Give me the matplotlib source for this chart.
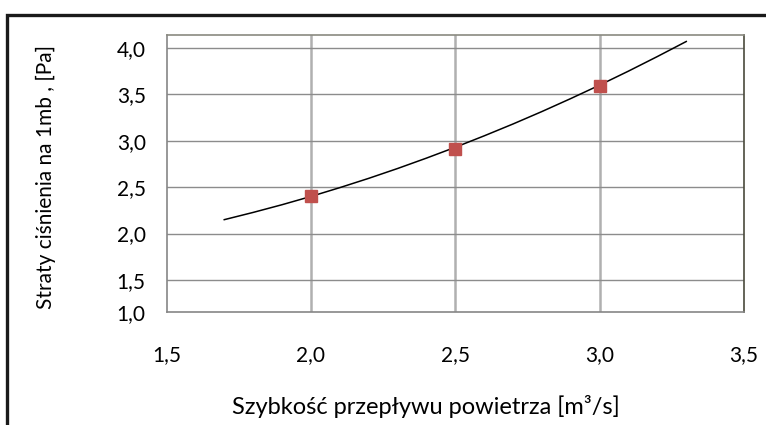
import matplotlib
matplotlib.use("Agg")
import matplotlib.pyplot as plt
from matplotlib.patches import Rectangle

plt.rcParams['font.family'] = ['Lato', 'DejaVu Sans']

# measured points
flow = [2.0, 2.5, 3.0]
loss = [2.41, 2.91, 3.59]

# trendline (forecast 1.7 .. 3.3)
trend_x = [1.7, 1.8, 1.9, 2.0, 2.1, 2.2, 2.3, 2.4, 2.5, 2.6, 2.7, 2.8, 2.9, 3.0, 3.1, 3.2, 3.3]
trend_y = [2.15, 2.228, 2.311, 2.40, 2.495, 2.595, 2.701, 2.813, 2.93, 3.053, 3.181,
           3.315, 3.455, 3.60, 3.751, 3.908, 4.07]

x_ticks = [1.5, 2.0, 2.5, 3.0, 3.5]
x_labels = ['1,5', '2,0', '2,5', '3,0', '3,5']
y_ticks = [1.5, 2.0, 2.5, 3.0, 3.5, 4.0]
y_labels = ['1,5', '2,0', '2,5', '3,0', '3,5', '4,0']
y_bottom_label = '1,0'

W, H = 766, 425
fig = plt.figure(figsize=(W/100, H/100), dpi=100)
ax = fig.add_axes([166.5/W, 1-312/H, (744-166.5)/W, (312-35)/H])

ax.plot(trend_x, trend_y, color='black', lw=1.1, zorder=3)
ax.plot(flow, loss, 's', color='#C0504D', ms=8.6, mec='#C0504D', zorder=4)

ybot = 1.155
ax.set_xlim(1.5, 3.5)
ax.set_ylim(ybot, 4.14)
ax.set_xticks(x_ticks)
ax.set_xticklabels(x_labels)
ax.set_yticks([ybot] + y_ticks)
ax.set_yticklabels([y_bottom_label] + y_labels)

for v in x_ticks[1:-1]:
    ax.axvline(v, color='#b0b0b0', lw=1.8, zorder=1)
for v in y_ticks:
    ax.axhline(v, color='#8c8c8c', lw=1.0, zorder=1)

ax.tick_params(axis='both', length=0, labelsize=15, colors='black')
ax.tick_params(axis='x', pad=24)
ax.tick_params(axis='y', pad=15)
ax.spines['left'].set_color('#868686')
ax.spines['bottom'].set_color('#868686')
ax.spines['top'].set_color('#8a8a80')
ax.spines['right'].set_color('#4a4a3c')
for s in ax.spines.values():
    s.set_linewidth(1.2)

fig.text(426/W, 1-406/H, 'Szybkość przepływu powietrza [m³/s]', fontsize=17,
         ha='center', va='center')
fig.text(46/W, 1-177/H, 'Straty ciśnienia na 1mb , [Pa]', fontsize=15,
         rotation=90, ha='center', va='center')

# outer frame, cut off at the right and bottom edge
frame = Rectangle((6.5/W, -0.1), 1.2, 1.1 - 14.5/H, transform=fig.transFigure,
                  fill=False, lw=2.4, edgecolor='#1a1a1a', clip_on=False)
fig.patches.append(frame)

fig.savefig('out.png', dpi=100)
